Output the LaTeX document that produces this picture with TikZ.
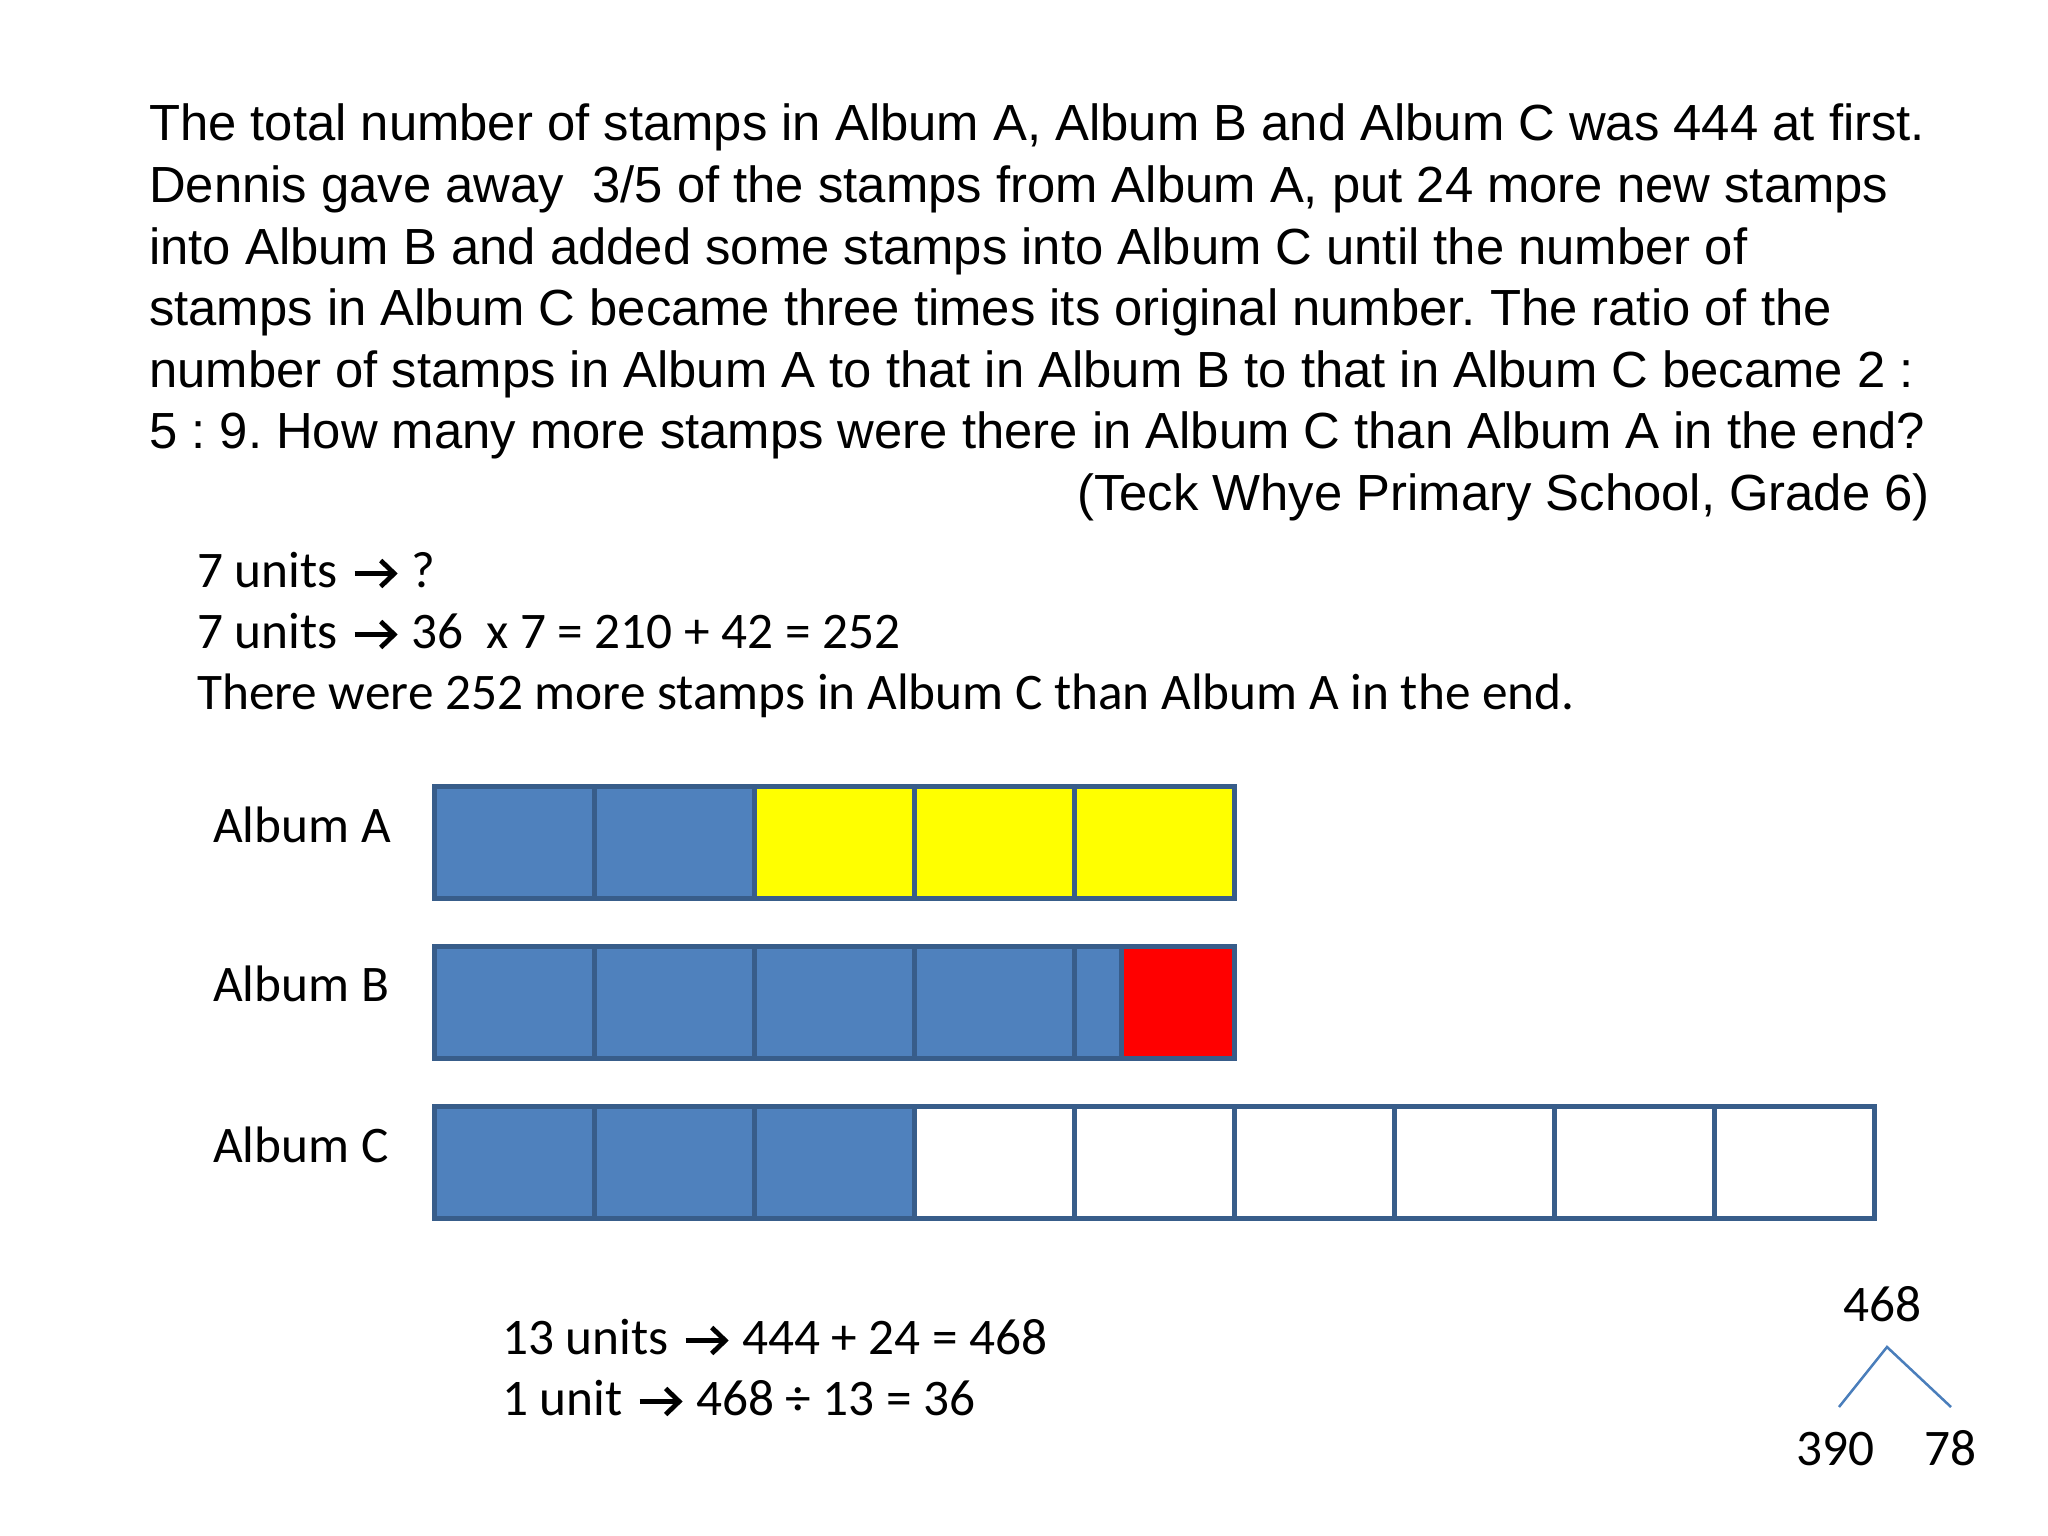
\documentclass[tikz,border=0pt]{standalone}
\usepackage{fontspec}
\setmainfont{Liberation Sans}
\newfontfamily\calfont{Carlito}
\definecolor{cellblue}{HTML}{4F81BD}
\definecolor{cellline}{HTML}{385D8A}
\definecolor{treeline}{HTML}{4A7EBB}
\definecolor{celly}{HTML}{FFFF00}
\frenchspacing
\begin{document}
\begin{tikzpicture}[x=1pt,y=-1pt,
  ptext/.style={anchor=base west,inner sep=0pt,font=\fontsize{50.8}{60}\selectfont},
  ctext/.style={anchor=base west,inner sep=0pt,font=\calfont\fontsize{51.3}{60}\selectfont},
  cell/.style={draw=cellline,line width=4.5pt,anchor=north west,inner sep=0pt,minimum height=112pt,minimum width=160pt},
  blue/.style={cell,fill=cellblue},
  yel/.style={cell,fill=celly},
  red/.style={cell,fill=red,minimum width=113pt},
  empt/.style={cell,fill=white}]
\useasboundingbox (0,0) rectangle (2048,1536);
\fill[white] (0,0) rectangle (2048,1536);
\newcommand{\arw}{\hspace{3pt}\tikz[baseline=0pt,x=1pt,y=1pt]{\draw[line width=4.8pt,line cap=butt] (0,13.5) -- (38,13.5);\draw[line width=4.8pt,line join=miter,line cap=butt] (26,0.5) -- (39.5,13.5) -- (26,26.5);}\hspace{3pt}}
% problem text
\node[ptext] (p1) at (149,141) {The total number of stamps in Album A, Album B and Album C was 444 at first.};
\node[ptext] (p2) at (149,202.5) {Dennis gave away\ \ 3/5 of the stamps from Album A, put 24 more new stamps};
\node[ptext] (p3) at (149,264) {into Album B and added some stamps into Album C until the number of};
\node[ptext] (p4) at (149,325.5) {stamps in Album C became three times its original number. The ratio of the};
\node[ptext] (p5) at (149,387) {number of stamps in Album A to that in Album B to that in Album C became 2 :};
\node[ptext] (p6) at (149,448.5) {5 : 9. How many more stamps were there in Album C than Album A in the end?};
\node[ptext,anchor=base east] (p7) at (1930,510) {(Teck Whye Primary School, Grade 6)};
% working
\node[ctext] (w1) at (197,587) {7 units \arw\ ?};
\node[ctext] (w2) at (197,648) {7 units \arw\ 36\ \ x 7 = 210 + 42 = 252};
\node[ctext] (w3) at (197,709) {There were 252 more stamps in Album C than Album A in the end.};
% labels
\node[ctext] (la) at (213,842) {Album A};
\node[ctext] (lb) at (213,1001) {Album B};
\node[ctext] (lc) at (213,1162) {Album C};
% Album A
\node[blue] (a1) at (432,784) {};
\node[blue] (a2) at (592,784) {};
\node[yel] (a3) at (752,784) {};
\node[yel] (a4) at (912,784) {};
\node[yel] (a5) at (1072,784) {};
% Album B
\node[blue] (b1) at (432,944) {};
\node[blue] (b2) at (592,944) {};
\node[blue] (b3) at (752,944) {};
\node[blue] (b4) at (912,944) {};
\node[blue,minimum width=47pt] (b5) at (1072,944) {};
\node[red] (b6) at (1119,944) {};
% Album C
\node[blue] (c1) at (432,1104) {};
\node[blue] (c2) at (592,1104) {};
\node[blue] (c3) at (752,1104) {};
\node[empt] (c4) at (912,1104) {};
\node[empt] (c5) at (1072,1104) {};
\node[empt] (c6) at (1232,1104) {};
\node[empt] (c7) at (1392,1104) {};
\node[empt] (c8) at (1552,1104) {};
\node[empt] (c9) at (1712,1104) {};
% bottom working
\node[ctext] (u1) at (502,1354) {13 units \arw\ 444 + 24 = 468};
\node[ctext] (u2) at (502,1415) {1 unit \arw\ 468 ÷ 13 = 36};
% tree
\node[ctext,anchor=base] (t0) at (1882,1321) {468};
\node[ctext,anchor=base] (t1) at (1835,1465) {390};
\node[ctext,anchor=base] (t2) at (1950,1465) {78};
\coordinate (apex) at (1887,1347);
\coordinate (lend) at (1839,1407);
\coordinate (rend) at (1951,1407);
\draw[treeline,line width=2.5pt] (lend) -- (apex) -- (rend);
\end{tikzpicture}
\end{document}
